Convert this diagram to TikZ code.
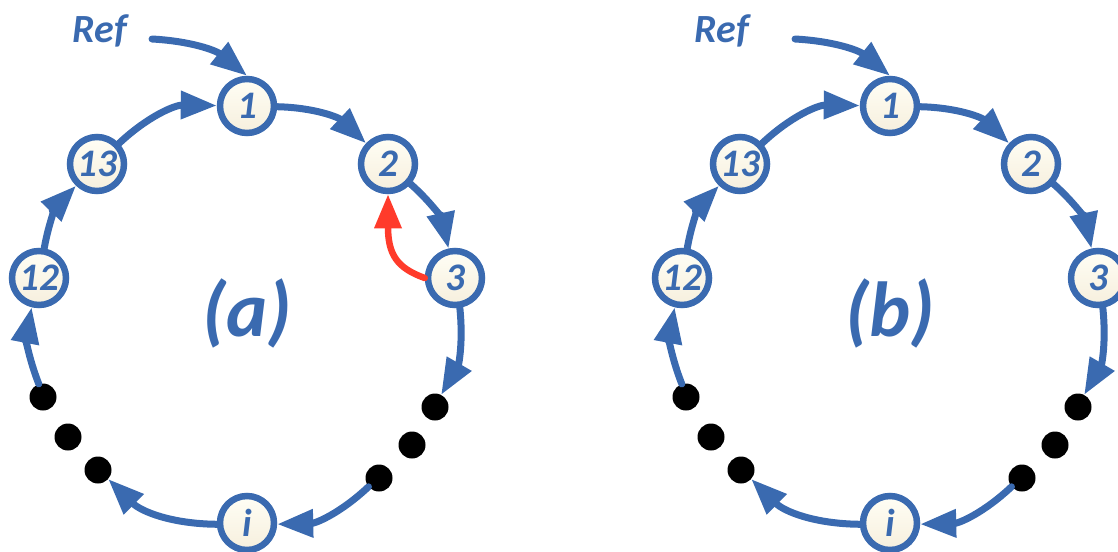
\documentclass[tikz,border=0pt]{standalone}
\usepackage{fontspec}
\setmainfont{Carlito}
\usetikzlibrary{arrows.meta}
\definecolor{ringblue}{HTML}{3A6AB0}
\definecolor{ringred}{HTML}{FF3B2B}
\definecolor{creamtop}{HTML}{FFFEF5}
\definecolor{creambot}{HTML}{F6EFDD}
\tikzset{
  ringnode/.style={circle, draw=ringblue, line width=6.5pt, minimum size=54pt, inner sep=0pt,
    top color=creamtop, bottom color=creambot, text=ringblue,
    font=\fontsize{39}{39}\selectfont\bfseries\itshape},
  dotnode/.style={circle, fill=black, minimum size=27pt, inner sep=0pt},
  reflabel/.style={text=ringblue, inner sep=0pt, font=\fontsize{40}{40}\selectfont\bfseries\itshape},
  biglabel/.style={text=ringblue, inner sep=0pt, font=\fontsize{78}{78}\selectfont\bfseries\itshape},
  link/.style={draw=ringblue, line width=7pt, line cap=round, -{Triangle[length=36pt,width=27pt]}},
  redlink/.style={draw=ringred, line width=6.5pt, line cap=round, -{Triangle[length=34pt,width=26pt]}}
}
\newcommand\ringpic[4]{%
\begin{scope}[xshift=#2]
\node[ringnode] (#1n1) at (247,-106) {1};
\node[ringnode] (#1n2) at (388,-164) {2};
\node[ringnode] (#1n3) at (455,-278) {3};
\node[ringnode] (#1n12) at (39,-278) {12};
\node[ringnode] (#1n13) at (97,-164) {13};
\node[ringnode] (#1ni) at (247,-523) {i};
\node[dotnode] (#1r1) at (435,-407) {};
\node[dotnode] (#1r2) at (412,-445) {};
\node[dotnode] (#1r3) at (379,-478) {};
\node[dotnode] (#1l1) at (43,-397) {};
\node[dotnode] (#1l2) at (68,-437) {};
\node[dotnode] (#1l3) at (98,-470) {};
\node[reflabel, anchor=base] (#1ref) at (#4,-43) {Ref};
\coordinate (#1refstart) at (152,-39);
\node[biglabel, anchor=base] (#1lab) at (247,-336) {#3};
\draw[link] (#1refstart) to[bend left=18] (#1n1.north);
\draw[link] (#1n13) to[bend left=22] (#1n1);
\draw[link] (#1n1) to[bend left=21] (#1n2);
\draw[link] (#1n2) to[bend left=18] (#1n3);
\draw[link] (#1n3) to[bend left=18] (#1r1);
\draw[link] (#1r3) to[bend left=21] (#1ni);
\draw[link] (#1ni) to[bend left=22] (#1l3);
\draw[link] (#1l1) to[bend left=16] (#1n12);
\draw[link] (#1n12) to[bend left=17] (#1n13);
\end{scope}}
\begin{document}
\begin{tikzpicture}[x=1pt,y=1pt]
\useasboundingbox (0,0) rectangle (1118,-551);
\ringpic{a}{0pt}{(a)}{100}
\ringpic{b}{643pt}{(b)}{79}
\draw[redlink] (an3.west) .. controls +(-28,10) and +(0,-60) .. (an2.south);
\end{tikzpicture}
\end{document}
